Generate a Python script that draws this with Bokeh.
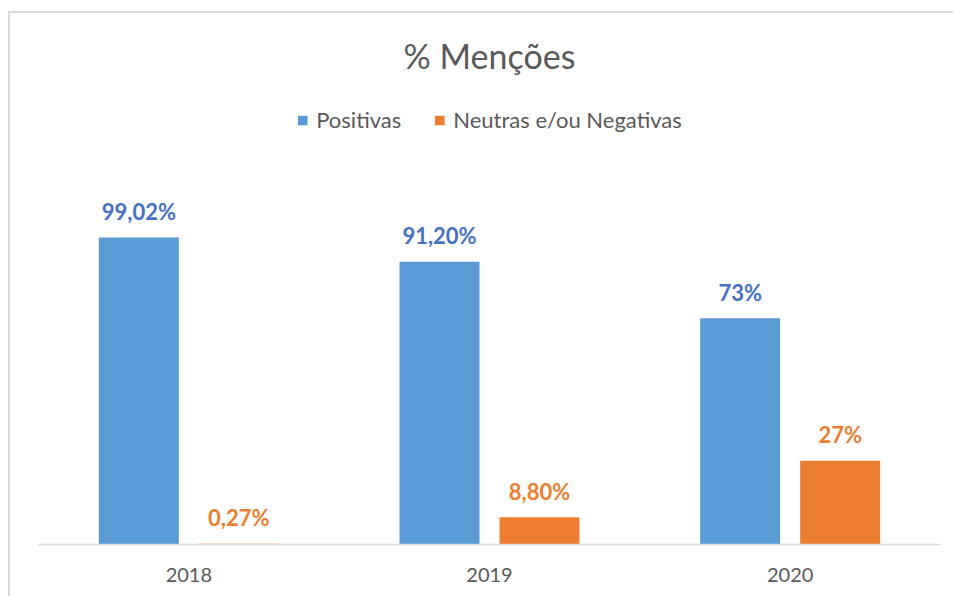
from bokeh.plotting import figure
from bokeh.models import ColumnDataSource, FactorRange, Range1d, Legend, LegendItem, Label
from bokeh.transform import dodge
from bokeh.core.properties import value
from bokeh.embed import file_html
from bokeh.resources import INLINE

# ---- data ----
years = ["2018", "2019", "2020"]
positivas = [99.02, 91.20, 73]
neutras_negativas = [0.27, 8.80, 27]
positivas_labels = ["99,02%", "91,20%", "73%"]
neutras_labels = ["0,27%", "8,80%", "27%"]
title_text = "% Menções"
series_names = ["Positivas", "Neutras e/ou Negativas"]

BLUE = "#5B9BD5"
ORANGE = "#ED7D31"
BLUE_LABEL = "#4472C4"
GRAY = "#595959"
FONT = "Lato"

src = ColumnDataSource(dict(
    year=years, pos=positivas, neg=neutras_negativas,
    pos_lbl=positivas_labels, neg_lbl=neutras_labels,
))

p = figure(
    width=945, height=585,
    x_range=FactorRange(*years, range_padding=0),
    y_range=Range1d(0, 171.3),
    output_backend="svg", toolbar_location=None,
    min_border_left=28, min_border_right=15,
    min_border_top=0, min_border_bottom=54,
)
p.styles = {"border-left": "2px solid #d9d9d9", "border-top": "2px solid #d9d9d9",
            "margin-left": "8px", "margin-top": "11px"}

bw = 0.266
off = 0.1663
r_pos = p.vbar(x=dodge("year", -off, range=p.x_range), top="pos", width=bw,
               source=src, fill_color=BLUE, line_color=None)
r_neg = p.vbar(x=dodge("year", off, range=p.x_range), top="neg", width=bw,
               source=src, fill_color=ORANGE, line_color=None)

p.text(x=dodge("year", -off, range=p.x_range), y="pos", text="pos_lbl", source=src,
       text_align="center", text_baseline="alphabetic", y_offset=-26,
       text_font=value(FONT), text_font_style="bold", text_font_size="22px",
       text_color=BLUE_LABEL)
p.text(x=dodge("year", off, range=p.x_range), y="neg", text="neg_lbl", source=src,
       text_align="center", text_baseline="alphabetic", y_offset=-26,
       text_font=value(FONT), text_font_style="bold", text_font_size="22px",
       text_color=ORANGE)

# title
p.add_layout(Label(x=1.5, y=157.7, text=title_text, text_align="center",
                   text_baseline="middle", text_font=FONT, text_font_size="34px",
                   text_color=GRAY))

legend = Legend(items=[LegendItem(label=series_names[0], renderers=[r_pos]),
                       LegendItem(label=series_names[1], renderers=[r_neg])],
                location="top_center", orientation="horizontal",
                margin=93, padding=0, spacing=32,
                glyph_width=12, glyph_height=12, label_standoff=8,
                label_text_font=FONT, label_text_font_size="22px",
                label_text_color=GRAY, border_line_color=None,
                background_fill_alpha=0)
p.add_layout(legend)

p.yaxis.visible = False
p.xgrid.grid_line_color = None
p.ygrid.grid_line_color = None
p.outline_line_color = None
p.xaxis.axis_line_color = "#d9d9d9"
p.xaxis.axis_line_width = 1.5
p.xaxis.major_tick_line_color = None
p.xaxis.minor_tick_line_color = None
p.xaxis.major_label_text_font = FONT
p.xaxis.major_label_text_font_size = "20px"
p.xaxis.major_label_text_color = GRAY
p.xaxis.major_label_standoff = 17

open("out.html", "w").write(file_html(p, INLINE))
